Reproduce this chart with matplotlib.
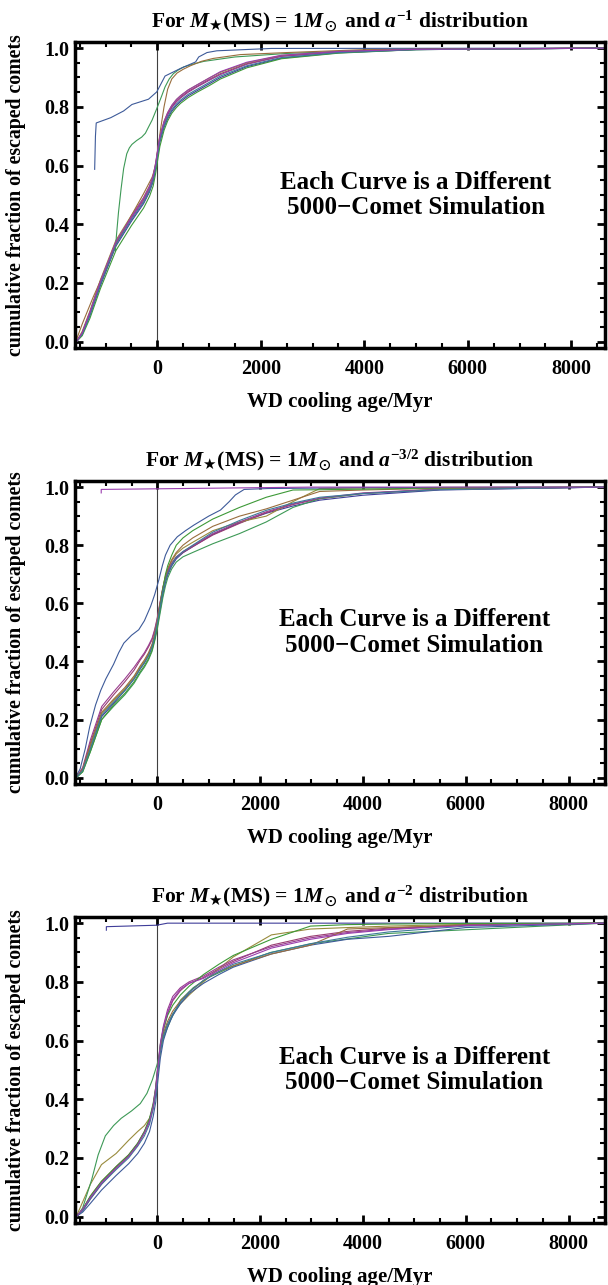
import numpy as np
import matplotlib.pyplot as plt
from matplotlib.ticker import MultipleLocator

plt.rcParams['font.family'] = ['Liberation Serif', 'DejaVu Serif']
plt.rcParams['font.weight'] = 'bold'
plt.rcParams['mathtext.fontset'] = 'custom'
plt.rcParams['mathtext.rm'] = 'Liberation Serif:bold'
plt.rcParams['mathtext.it'] = 'Liberation Serif:italic:bold'
plt.rcParams['mathtext.bf'] = 'Liberation Serif:bold'
plt.rcParams['mathtext.sf'] = 'DejaVu Sans'
plt.rcParams['mathtext.fallback'] = 'stix'

# Mathematica default plot colours
colors = [(0.247, 0.24, 0.6), (0.6, 0.24, 0.443), (0.6, 0.547, 0.24),
          (0.24, 0.6, 0.337), (0.24, 0.353, 0.6), (0.6, 0.24, 0.563),
          (0.6, 0.427, 0.24), (0.24, 0.6, 0.217), (0.24, 0.474, 0.6),
          (0.6, 0.24, 0.684)]

titles = [r'For $M_{\mathsf{★}}$(MS) = 1$M_\odot$ and $a^{-1}$ distribution',
          r'For $M_{\mathsf{★}}$(MS) = 1$M_\odot$ and $a^{-3/2}$ distribution',
          r'For $M_{\mathsf{★}}$(MS) = 1$M_\odot$ and $a^{-2}$ distribution']

# ---- a^-1 ----
x1 = [-1560, -1450, -1300, -1100, -800, -500, -265, -150, -80, -30, 0, 50, 130, 200, 280, 370, 450, 600, 770, 1000, 1220, 1730, 2400, 3500, 5000, 8650]
a1_x = [x1, x1, x1,
        [-810, -790, -750, -700, -650, -590, -540, -490, -400, -300, -230, -170, -100, -10, 80, 150, 230, 310, 400, 510, 700, 900, 1500, 2500, 4000, 6000, 8650],
        [-1210, -1195, -1180, -900, -650, -490, -170, -10, 150, 450, 740, 800, 960, 1150, 2200, 8650],
        x1,
        [-1575, -1450, -1240, -1010, -790, -500, -265, -100, -30, 0, 60, 130, 200, 280, 380, 500, 640, 850, 1080, 1600, 2500, 4000, 8650],
        x1, x1, x1]
a1_y = [[0.0, 0.025, 0.09, 0.19, 0.325, 0.41, 0.47, 0.51, 0.545, 0.59, 0.625, 0.68, 0.73, 0.76, 0.785, 0.805, 0.818, 0.838, 0.855, 0.878, 0.9, 0.937, 0.966, 0.984, 0.995, 1.0],
        [0.0, 0.03, 0.1, 0.205, 0.34, 0.425, 0.485, 0.525, 0.56, 0.605, 0.64, 0.695, 0.745, 0.775, 0.8, 0.82, 0.833, 0.853, 0.87, 0.893, 0.913, 0.947, 0.973, 0.988, 0.996, 1.0],
        [0.0, 0.035, 0.105, 0.21, 0.345, 0.43, 0.49, 0.53, 0.565, 0.61, 0.645, 0.7, 0.75, 0.78, 0.805, 0.825, 0.838, 0.858, 0.875, 0.898, 0.918, 0.95, 0.975, 0.989, 0.997, 1.0],
        [0.31, 0.36, 0.44, 0.52, 0.59, 0.64, 0.66, 0.672, 0.685, 0.697, 0.71, 0.731, 0.755, 0.794, 0.835, 0.868, 0.895, 0.913, 0.925, 0.936, 0.946, 0.955, 0.97, 0.982, 0.992, 0.998, 1.0],
        [0.587, 0.70, 0.745, 0.763, 0.786, 0.808, 0.826, 0.851, 0.905, 0.931, 0.953, 0.97, 0.985, 0.991, 0.999, 1.0],
        [0.0, 0.03, 0.1, 0.2, 0.335, 0.42, 0.48, 0.52, 0.555, 0.6, 0.635, 0.69, 0.742, 0.772, 0.797, 0.817, 0.83, 0.85, 0.868, 0.89, 0.91, 0.945, 0.972, 0.987, 0.996, 1.0],
        [0.0, 0.06, 0.151, 0.242, 0.334, 0.43, 0.504, 0.56, 0.6, 0.64, 0.72, 0.8, 0.86, 0.895, 0.915, 0.928, 0.94, 0.955, 0.965, 0.978, 0.985, 0.995, 1.0],
        [0.0, 0.02, 0.08, 0.18, 0.31, 0.395, 0.455, 0.495, 0.53, 0.575, 0.61, 0.665, 0.72, 0.752, 0.778, 0.798, 0.812, 0.832, 0.85, 0.872, 0.895, 0.933, 0.964, 0.983, 0.995, 1.0],
        [0.0, 0.025, 0.09, 0.195, 0.33, 0.415, 0.475, 0.515, 0.55, 0.595, 0.63, 0.685, 0.735, 0.765, 0.79, 0.81, 0.823, 0.843, 0.86, 0.883, 0.905, 0.94, 0.968, 0.985, 0.995, 1.0],
        [0.0, 0.03, 0.1, 0.205, 0.34, 0.425, 0.49, 0.53, 0.565, 0.61, 0.645, 0.7, 0.75, 0.78, 0.805, 0.825, 0.838, 0.858, 0.875, 0.898, 0.92, 0.952, 0.976, 0.989, 0.996, 1.0]]

# ---- a^-3/2 ----
x2 = [-1575, -1450, -1300, -1080, -850, -630, -450, -330, -250, -170, -100, -50, 0, 50, 110, 160, 205, 280, 370, 500, 690, 1080, 1600, 2120, 2640, 3160, 4000, 5500, 8700]
a2_x = [x2, x2, x2, x2,
        [-1575, -1500, -1400, -1313, -1200, -1100, -1000, -850, -750, -650, -500, -360, -250, -130, -50, 30, 100, 160, 250, 390, 550, 710, 1000, 1230, 1400, 1520, 1690, 2140, 4000, 8700],
        x2, x2, x2, x2,
        [-1090, -1090, 3000, 8700]]
a2_y = [[0.0, 0.025, 0.1, 0.21, 0.255, 0.3, 0.34, 0.375, 0.395, 0.42, 0.45, 0.48, 0.52, 0.57, 0.63, 0.672, 0.698, 0.728, 0.753, 0.774, 0.795, 0.837, 0.877, 0.91, 0.935, 0.955, 0.972, 0.99, 1.0],
        [0.0, 0.03, 0.12, 0.235, 0.285, 0.33, 0.37, 0.405, 0.425, 0.45, 0.475, 0.505, 0.545, 0.595, 0.65, 0.685, 0.708, 0.735, 0.758, 0.775, 0.795, 0.835, 0.875, 0.912, 0.94, 0.96, 0.978, 0.992, 1.0],
        [0.0, 0.03, 0.11, 0.22, 0.265, 0.305, 0.345, 0.38, 0.4, 0.425, 0.455, 0.49, 0.535, 0.59, 0.65, 0.69, 0.715, 0.745, 0.77, 0.79, 0.81, 0.85, 0.88, 0.9, 0.95, 0.995, 0.997, 0.999, 1.0],
        [0.0, 0.02, 0.09, 0.2, 0.245, 0.285, 0.325, 0.36, 0.38, 0.405, 0.435, 0.47, 0.51, 0.56, 0.62, 0.66, 0.688, 0.718, 0.742, 0.76, 0.775, 0.805, 0.84, 0.88, 0.93, 0.96, 0.978, 0.993, 1.0],
        [0.005, 0.03, 0.1, 0.176, 0.25, 0.3, 0.34, 0.39, 0.43, 0.463, 0.49, 0.509, 0.54, 0.589, 0.63, 0.68, 0.73, 0.766, 0.8, 0.829, 0.85, 0.869, 0.9, 0.921, 0.95, 0.973, 0.992, 0.995, 0.998, 1.0],
        [0.0, 0.035, 0.13, 0.245, 0.295, 0.34, 0.38, 0.41, 0.43, 0.455, 0.48, 0.51, 0.55, 0.6, 0.655, 0.69, 0.712, 0.738, 0.76, 0.778, 0.798, 0.84, 0.88, 0.915, 0.942, 0.962, 0.98, 0.993, 1.0],
        [0.0, 0.03, 0.115, 0.225, 0.27, 0.31, 0.35, 0.385, 0.405, 0.43, 0.46, 0.495, 0.54, 0.595, 0.655, 0.695, 0.72, 0.75, 0.775, 0.8, 0.825, 0.865, 0.9, 0.925, 0.955, 0.985, 0.99, 0.996, 1.0],
        [0.0, 0.02, 0.09, 0.2, 0.25, 0.29, 0.33, 0.365, 0.385, 0.41, 0.44, 0.475, 0.52, 0.58, 0.65, 0.7, 0.73, 0.765, 0.8, 0.825, 0.85, 0.89, 0.93, 0.965, 0.99, 0.991, 0.993, 0.997, 1.0],
        [0.0, 0.025, 0.1, 0.215, 0.26, 0.3, 0.34, 0.375, 0.395, 0.42, 0.45, 0.485, 0.53, 0.58, 0.64, 0.678, 0.703, 0.733, 0.758, 0.778, 0.8, 0.845, 0.885, 0.92, 0.945, 0.965, 0.978, 0.991, 1.0],
        [0.98, 0.992, 1.0, 1.0]]

# ---- a^-2 ----
x3 = [-1575, -1450, -1300, -1085, -800, -556, -380, -250, -150, -80, -30, 10, 60, 120, 200, 300, 450, 620, 900, 1200, 1480, 2220, 2980, 3700, 4500, 6000, 8700]
a3_x = [[-990, -990, -10, 200, 8700],
        x3, x3,
        [-1560, -1450, -1275, -1150, -1010, -850, -700, -500, -330, -200, -95, 0, 33, 100, 260, 455, 700, 1000, 1500, 2200, 3000, 4500, 8700],
        x3, x3, x3, x3, x3, x3]
a3_y = [[0.976, 0.988, 0.993, 1.0, 1.0],
        [0.0, 0.02, 0.06, 0.11, 0.165, 0.205, 0.245, 0.285, 0.325, 0.375, 0.43, 0.5, 0.575, 0.635, 0.69, 0.735, 0.77, 0.795, 0.815, 0.845, 0.87, 0.925, 0.955, 0.972, 0.983, 0.994, 1.0],
        [0.0, 0.05, 0.11, 0.177, 0.215, 0.26, 0.29, 0.31, 0.335, 0.37, 0.42, 0.49, 0.56, 0.615, 0.655, 0.69, 0.725, 0.755, 0.8, 0.845, 0.885, 0.96, 0.98, 0.985, 0.99, 0.996, 1.0],
        [0.0, 0.03, 0.126, 0.21, 0.275, 0.31, 0.335, 0.36, 0.385, 0.42, 0.466, 0.52, 0.545, 0.6, 0.67, 0.738, 0.78, 0.815, 0.855, 0.9, 0.93, 0.965, 1.0],
        [0.0, 0.015, 0.045, 0.09, 0.14, 0.18, 0.215, 0.25, 0.29, 0.34, 0.39, 0.46, 0.54, 0.6, 0.645, 0.685, 0.725, 0.76, 0.795, 0.825, 0.85, 0.895, 0.925, 0.945, 0.955, 0.985, 1.0],
        [0.0, 0.025, 0.065, 0.115, 0.17, 0.21, 0.25, 0.29, 0.33, 0.38, 0.44, 0.51, 0.59, 0.65, 0.705, 0.75, 0.78, 0.8, 0.82, 0.85, 0.875, 0.92, 0.95, 0.968, 0.98, 0.994, 1.0],
        [0.0, 0.025, 0.07, 0.12, 0.17, 0.21, 0.248, 0.288, 0.328, 0.378, 0.43, 0.5, 0.57, 0.625, 0.665, 0.7, 0.735, 0.765, 0.805, 0.835, 0.855, 0.895, 0.925, 0.98, 0.985, 0.993, 1.0],
        [0.0, 0.025, 0.07, 0.12, 0.17, 0.21, 0.25, 0.29, 0.335, 0.385, 0.44, 0.51, 0.585, 0.64, 0.685, 0.72, 0.755, 0.785, 0.825, 0.86, 0.89, 0.945, 0.99, 0.995, 0.997, 0.999, 1.0],
        [0.0, 0.02, 0.06, 0.11, 0.16, 0.2, 0.24, 0.275, 0.315, 0.365, 0.415, 0.49, 0.56, 0.615, 0.655, 0.69, 0.73, 0.765, 0.805, 0.835, 0.86, 0.9, 0.93, 0.952, 0.97, 0.99, 1.0],
        [0.0, 0.025, 0.065, 0.115, 0.165, 0.205, 0.245, 0.285, 0.325, 0.375, 0.435, 0.505, 0.585, 0.645, 0.695, 0.74, 0.775, 0.795, 0.812, 0.84, 0.865, 0.915, 0.945, 0.965, 0.978, 0.992, 1.0]]

panels = [(a1_x, a1_y, (-1590, 8650)), (a2_x, a2_y, (-1600, 8710)), (a3_x, a3_y, (-1600, 8710))]
# axes boxes in pixels: top, bottom
boxes = [(42, 348), (481, 784), (917, 1223)]

W, H = 608, 1285
fig = plt.figure(figsize=(W / 100, H / 100), dpi=100)

for i in range(3):
    xs, ys, xl = panels[i]
    top, bot = boxes[i]
    ax = fig.add_axes([75 / W, (H - bot) / H, 530 / W, (bot - top) / H])
    for j in range(len(xs)):
        ax.plot(xs[j], ys[j], color=colors[j], lw=0.8)
    ax.axvline(0, color='0.25', lw=0.8, zorder=0)
    ax.set_xlim(xl)
    ax.set_ylim(-0.022, 1.021)
    ax.xaxis.set_major_locator(MultipleLocator(2000))
    ax.xaxis.set_minor_locator(MultipleLocator(500))
    ax.yaxis.set_major_locator(MultipleLocator(0.2))
    ax.yaxis.set_minor_locator(MultipleLocator(0.05))
    ax.tick_params(which='both', direction='in', top=True, right=True, labelsize=14.5)
    ax.tick_params(which='major', length=6, width=2)
    ax.tick_params(which='minor', length=3.5, width=1.5)
    ax.tick_params(axis='x', pad=8)
    ax.tick_params(axis='y', pad=4)
    for s in ax.spines.values():
        s.set_linewidth(2.5)
    ax.set_title(titles[i], fontsize=15.5, fontweight='bold', pad=10.5)
    ax.set_xlabel('WD cooling age/Myr', fontsize=15, fontweight='bold', labelpad=9)
    ax.set_ylabel('cumulative fraction of escaped comets', fontsize=14.3, fontweight='bold')
    ax.yaxis.set_label_coords(-0.092, 0.5)
    ax.text(5000, 0.5, 'Each Curve is a Different\n5000\u2212Comet Simulation',
            ha='center', va='center', fontsize=18, fontweight='bold', linespacing=1.15)

fig.savefig('out.png', dpi=100)
